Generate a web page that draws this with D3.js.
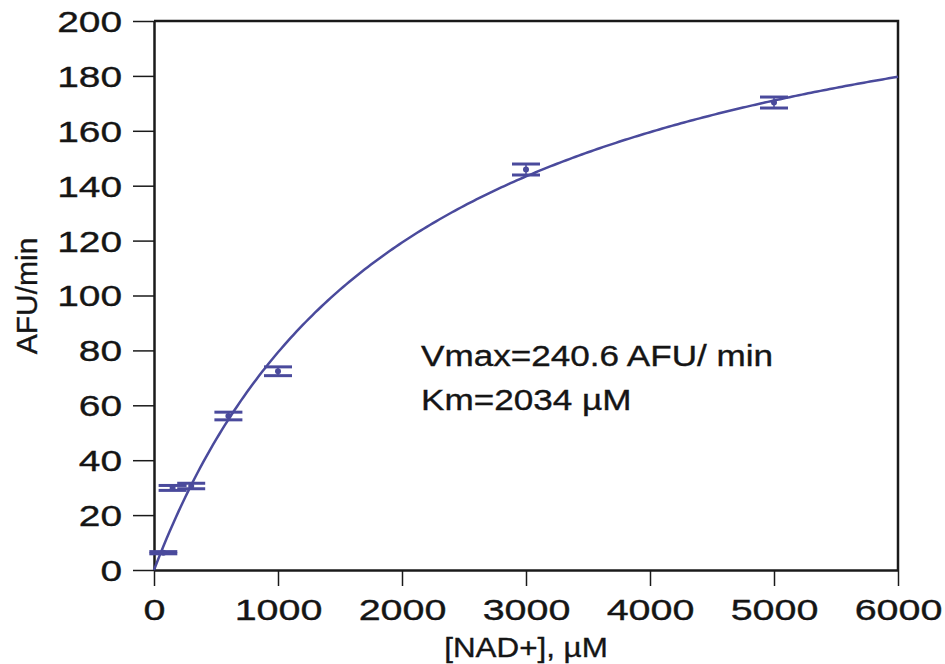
<!DOCTYPE html>
<html>
<head>
	<meta charset="utf-8">
	<title>NAD+ kinetics</title>
	<script src="https://cdn.jsdelivr.net/npm/d3@7"></script>
	<style>
		body { margin: 0; background: #fff; }
		text { font-family: "Liberation Sans", Arial, sans-serif; fill: #151515; stroke: #151515; stroke-width: 0.35px; }
	</style>
</head>
<body>
	<script>
		// Data
		const conc = [75, 150, 300, 600, 1000, 3000, 5000];        // [NAD+], µM
		const rate = [6.3, 29.9, 30.6, 56.1, 72.4, 145.9, 170.3];  // AFU/min
		const err  = [0.4, 0.9, 1.0, 1.4, 1.6, 2.0, 2.0];

		// fit parameters given in the figure
		const vmax = 240.6;
		const km = 2034;

		const xTicks = [0, 1000, 2000, 3000, 4000, 5000, 6000];
		const yTicks = [0, 20, 40, 60, 80, 100, 120, 140, 160, 180, 200];

		const W = 945, H = 664;
		const mLeft = 154, mRight = 898, mTop = 21, mBottom = 570;
		const blue = "#4a4a9c";

		const x = d3.scaleLinear().domain([0, 6000]).range([mLeft, mRight]);
		const y = d3.scaleLinear().domain([0, 200]).range([mBottom, mTop]);

		const svg = d3.select("body").append("svg")
			.attr("width", W)
			.attr("height", H);

		// stretch text horizontally (the original glyphs are wide)
		function stretch(sel, k) {
			sel.each(function () {
				const L = this.getComputedTextLength();
				d3.select(this).attr("textLength", L * k).attr("lengthAdjust", "spacingAndGlyphs");
			});
		}

		// y axis
		const gy = svg.append("g")
			.attr("transform", "translate(" + mLeft + ",0)")
			.call(d3.axisLeft(y).tickValues(yTicks).tickSize(21).tickSizeOuter(0).tickPadding(11));
		gy.select(".domain").attr("stroke", "#1a1a1a").attr("stroke-width", 2.5);
		gy.selectAll(".tick line").attr("stroke", "#1a1a1a").attr("stroke-width", 1.5);
		gy.selectAll(".tick text")
			.attr("font-size", 29)
			.attr("dy", "0.36em")
			.style("font-family", "'Liberation Sans', Arial, sans-serif")
			.call(stretch, 1.34);

		// x axis
		const gx = svg.append("g")
			.attr("transform", "translate(0," + mBottom + ")")
			.call(d3.axisBottom(x).tickValues(xTicks).tickSize(16).tickSizeOuter(0).tickFormat(d3.format("d")));
		gx.select(".domain").attr("stroke", "#1a1a1a").attr("stroke-width", 2.5);
		gx.selectAll(".tick line").attr("stroke", "#1a1a1a").attr("stroke-width", 1.5);
		gx.selectAll(".tick text")
			.attr("font-size", 29)
			.attr("y", 50)
			.attr("dy", null)
			.style("font-family", "'Liberation Sans', Arial, sans-serif")
			.call(stretch, 1.36);

		// rest of the frame
		svg.append("path")
			.attr("d", "M" + mLeft + "," + mTop + "H" + mRight + "V" + mBottom)
			.attr("fill", "none")
			.attr("stroke", "#1a1a1a")
			.attr("stroke-width", 2.5);

		// fitted Michaelis-Menten curve
		const curveX = d3.range(0, 6001, 25);
		const line = d3.line()
			.x(d => x(d))
			.y(d => y(vmax * d / (km + d)));
		svg.append("path")
			.datum(curveX)
			.attr("d", line)
			.attr("fill", "none")
			.attr("stroke", blue)
			.attr("stroke-width", 2.5);

		// error bars
		const eb = svg.append("g").selectAll("g")
			.data(conc)
			.enter()
			.append("g");
		eb.append("line")
			.attr("x1", d => x(d)).attr("x2", d => x(d))
			.attr("y1", (d, i) => y(rate[i] + err[i]))
			.attr("y2", (d, i) => y(rate[i] - err[i]))
			.attr("stroke", blue).attr("stroke-width", 1.5);
		eb.append("line")
			.attr("x1", d => x(d) - 14).attr("x2", d => x(d) + 14)
			.attr("y1", (d, i) => y(rate[i] + err[i]))
			.attr("y2", (d, i) => y(rate[i] + err[i]))
			.attr("stroke", blue).attr("stroke-width", 3);
		eb.append("line")
			.attr("x1", d => x(d) - 14).attr("x2", d => x(d) + 14)
			.attr("y1", (d, i) => y(rate[i] - err[i]))
			.attr("y2", (d, i) => y(rate[i] - err[i]))
			.attr("stroke", blue).attr("stroke-width", 3);
		eb.append("circle")
			.attr("cx", d => x(d))
			.attr("cy", (d, i) => y(rate[i]))
			.attr("r", 3)
			.attr("fill", blue);

		// annotation
		svg.append("text")
			.attr("x", 421).attr("y", 366)
			.attr("font-size", 29)
			.text("Vmax=240.6 AFU/ min")
			.call(stretch, 1.21);
		svg.append("text")
			.attr("x", 421).attr("y", 410)
			.attr("font-size", 29)
			.text("Km=2034 µM")
			.call(stretch, 1.21);

		// axis titles
		svg.append("text")
			.attr("x", x(3000)).attr("y", 657)
			.attr("text-anchor", "middle")
			.attr("font-size", 28)
			.text("[NAD+], µM")
			.call(stretch, 1.12);
		svg.append("text")
			.attr("transform", "translate(37,296) rotate(-90)")
			.attr("text-anchor", "middle")
			.attr("font-size", 30)
			.text("AFU/min");
	</script>
</body>
</html>
